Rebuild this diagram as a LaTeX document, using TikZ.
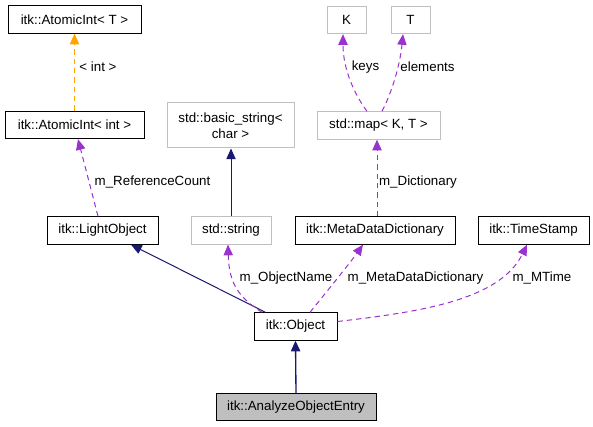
\documentclass[tikz,border=0pt]{standalone}
\usepackage{fontspec}
\setmainfont{Liberation Sans}
\usetikzlibrary{arrows.meta,calc}

\tikzset{
  box/.style={draw=black,line width=0.75pt,fill=white,minimum height=20.5pt,inner sep=1pt,font=\fontsize{10}{12}\selectfont},
  extbox/.style={box,draw=black!25},
  current/.style={box,fill=black!25},
  inherit/.style={draw=midnightblue,line width=0.75pt,-{Triangle[length=8pt,width=7pt]}},
  usage/.style={draw=orchid,line width=0.75pt,dash pattern=on 4pt off 3pt,-{Triangle[length=8pt,width=7pt]}},
  tmpl/.style={draw=tmplorange,line width=0.75pt,dash pattern=on 4pt off 3pt,-{Triangle[length=8pt,width=7pt]}},
  lbl/.style={inner sep=0pt,font=\fontsize{10}{12}\selectfont}
}
\definecolor{midnightblue}{RGB}{25,25,112}
\definecolor{orchid}{RGB}{154,50,205}
\definecolor{tmplorange}{RGB}{255,165,0}

\begin{document}
\begin{tikzpicture}[x=0.75pt,y=-0.75pt]
    \useasboundingbox (0,0) rectangle (593,427);

    % Nodes
    \node[box,minimum width=99.75pt] (aintT) at (74.5,19.5) {itk::AtomicInt< T >};
    \node[box,minimum width=104.25pt] (aint) at (74.5,125) {itk::AtomicInt< int >};
    \node[extbox,minimum width=95.25pt,minimum height=33.75pt,align=center] (basic) at (230.5,125.5) {std::basic\_string<\\char >};
    \node[extbox,minimum width=29.25pt] (K) at (346.5,20) {K};
    \node[extbox,minimum width=29.25pt] (T) at (410.5,20) {T};
    \node[extbox,minimum width=92.25pt] (map) at (378.5,125.5) {std::map< K, T >};
    \node[box,minimum width=83.25pt] (light) at (102.5,230.5) {itk::LightObject};
    \node[extbox,minimum width=60pt] (str) at (231,230.5) {std::string};
    \node[box,minimum width=120pt] (mdd) at (375,230.5) {itk::MetaDataDictionary};
    \node[box,minimum width=83.25pt] (ts) at (533.5,230.5) {itk::TimeStamp};
    \node[box,minimum width=62.25pt] (obj) at (295.5,326.5) {itk::Object};
    \node[current,minimum width=120pt] (entry) at (296,407) {itk::AnalyzeObjectEntry};

    % Edges
    \draw[tmpl] (aint.north) -- (aintT.south);
    \draw[usage] ($(light.north)+(-4.5,0)$) -- ($(aint.south)+(3.5,0)$);
    \draw[inherit] (str.north) -- (str.north |- basic.south);
    \draw[usage] ($(map.north)+(-11.5,0)$) .. controls (355,95) and (343,70) .. ($(K.south)+(-3.5,0)$);
    \draw[usage] ($(map.north)+(3.5,0)$) .. controls (392,92) and (400,65) .. ($(T.south)+(-7.5,0)$);
    \draw[usage] ($(mdd.north)+(2,0)$) -- ($(map.south)+(-1.5,0)$);
    \draw[inherit] ($(obj.north)+(-30,0)$) -- ($(light.south)+(28.5,0)$);
    \draw[usage] ($(obj.north)+(-33.5,0)$) .. controls (240,298) and (229,285) .. ($(str.south)+(-3,0)$);
    \draw[usage] ($(obj.north)+(14.5,0)$) .. controls (328,290) and (350,263) .. ($(mdd.south)+(-12,0)$);
    \draw[usage] ($(obj.east)+(0,-5)$) .. controls (420,312) and (500,300) .. ($(ts.south)+(-6.5,0)$);
    \draw[inherit,line width=1pt] (entry.north) -- (obj.south);

    % Labels
    \node[lbl] (lInt) at (98,67) {< int >};
    \node[lbl] (lRef) at (152.5,182) {m\_ReferenceCount};
    \node[lbl] (lKeys) at (365.5,67) {keys};
    \node[lbl] (lElem) at (427.5,67) {elements};
    \node[lbl] (lDict) at (418,182) {m\_Dictionary};
    \node[lbl] (lName) at (286,278) {m\_ObjectName};
    \node[lbl] (lMdd) at (415.5,278) {m\_MetaDataDictionary};
    \node[lbl] (lTime) at (542,278) {m\_MTime};
\end{tikzpicture}
\end{document}
